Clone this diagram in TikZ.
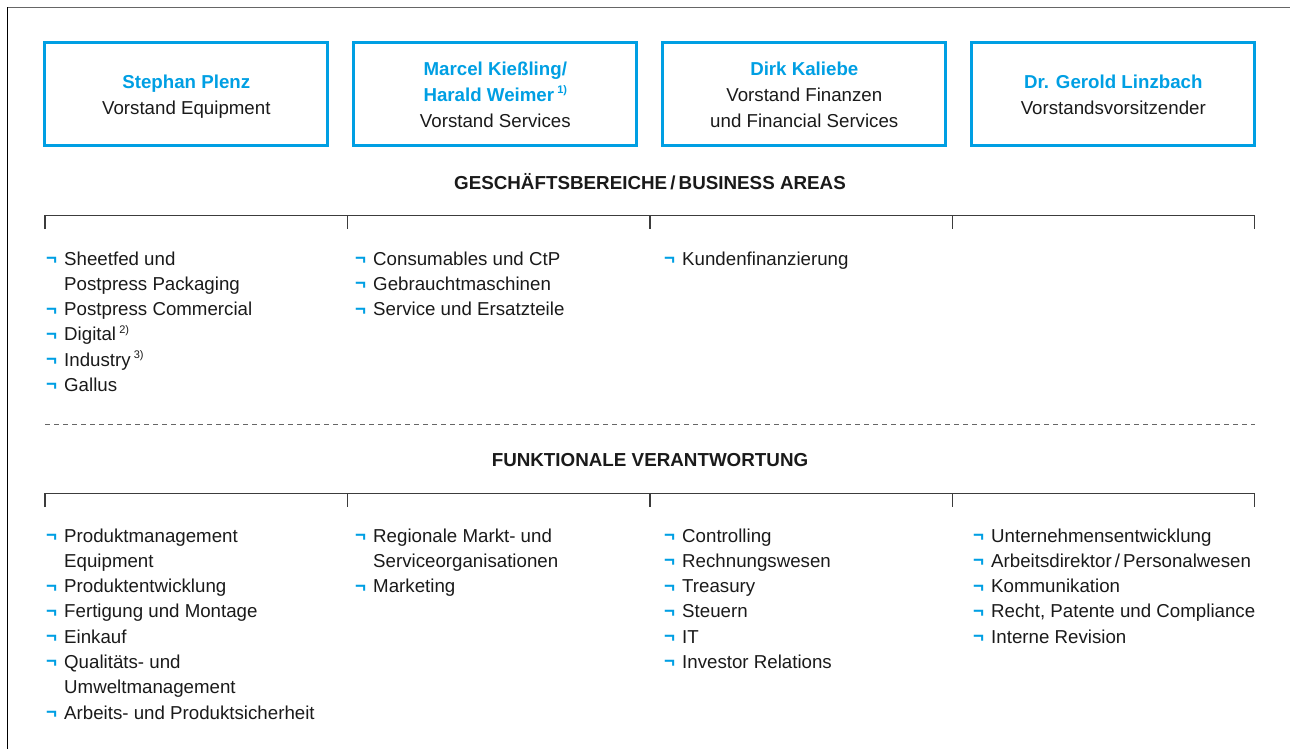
\documentclass[tikz,border=0pt]{standalone}
\usepackage{fontspec}
\setmainfont{Liberation Sans}
\definecolor{hdblue}{HTML}{009FE3}
\definecolor{txt}{HTML}{1A1A1A}
\definecolor{rule}{HTML}{3C3C3C}
\newcommand{\blt}{\makebox[18pt][l]{\bfseries\color{hdblue}\raisebox{0.6pt}{¬}}}
\newcommand{\fnote}[1]{\,\raisebox{0.42em}{\fontsize{11}{11}\selectfont #1}}
\tikzset{
  boxstyle/.style={draw=hdblue, line width=3pt, minimum width=283pt, minimum height=102.4pt, inner sep=0pt},
  boxtext/.style={anchor=base, inner sep=0pt, text=txt, font=\fontsize{18.7}{25.6}\selectfont},
  headtext/.style={anchor=base, inner sep=0pt, text=txt, font=\bfseries\fontsize{18.8}{22}\selectfont},
  listtext/.style={anchor=base west, inner sep=0pt, text=txt, font=\fontsize{18.7}{25.3}\selectfont},
  brk/.style={draw=rule, line width=1.1pt},
  dashline/.style={draw=gray!80!black, line width=1pt, dash pattern=on 5pt off 4pt},
}
\begin{document}
\begin{tikzpicture}[x=1pt,y=-1pt]
\useasboundingbox (0,0) rectangle (1290,749);
% frame lines
\draw[draw=gray!80!black, line width=1.2pt] (7.3,7.3) -- (1290,7.3);
\draw[draw=black, line width=1.1pt] (7.3,7.3) -- (7.3,749);

% boxes
\node[boxstyle] (b1) at (186.3,94) {};
\node[boxstyle] (b2) at (495.3,94) {};
\node[boxstyle] (b3) at (804.3,94) {};
\node[boxstyle] (b4) at (1113.3,94) {};

\node[boxtext] (t1) at (186.3,89) {\begin{tabular}[t]{@{}c@{}}\textcolor{hdblue}{\bfseries Stephan Plenz}\\ Vorstand Equipment\end{tabular}};
\node[boxtext] (t2) at (495.3,76) {\begin{tabular}[t]{@{}c@{}}\textcolor{hdblue}{\bfseries Marcel Kießling/}\\ \textcolor{hdblue}{\bfseries Harald Weimer\fnote{1)}}\\ Vorstand Services\end{tabular}};
\node[boxtext] (t3) at (804.3,76) {\begin{tabular}[t]{@{}c@{}}\textcolor{hdblue}{\bfseries Dirk Kaliebe}\\ Vorstand Finanzen\\ und Financial Services\end{tabular}};
\node[boxtext] (t4) at (1113.3,89) {\begin{tabular}[t]{@{}c@{}}\textcolor{hdblue}{\bfseries Dr. Gerold Linzbach}\\ Vorstandsvorsitzender\end{tabular}};

% headings
\node[headtext] (h1) at (650,189.5) {GESCHÄFTSBEREICHE\,/\,BUSINESS AREAS};
\node[headtext] (h2) at (650,466.5) {FUNKTIONALE VERANTWORTUNG};

% brackets
\draw[brk] (45,229) -- (45,215.5) -- (1254.5,215.5) -- (1254.5,229);
\draw[brk] (347.5,215.5) -- (347.5,229);
\draw[brk] (650,215.5) -- (650,229);
\draw[brk] (952.3,215.5) -- (952.3,229);

\draw[brk] (45,507) -- (45,493.3) -- (1254.5,493.3) -- (1254.5,507);
\draw[brk] (347.5,493.3) -- (347.5,507);
\draw[brk] (650,493.3) -- (650,507);
\draw[brk] (952.3,493.3) -- (952.3,507);

% dashed separator
\draw[dashline] (45,424) -- (1255,424);

% business areas lists
\node[listtext] (ba1) at (46,265) {\begin{tabular}[t]{@{}l@{}l@{}}
\blt & Sheetfed und\\
 & Postpress Packaging\\
\blt & Postpress Commercial\\
\blt & Digital\fnote{2)}\\
\blt & Industry\fnote{3)}\\
\blt & Gallus
\end{tabular}};
\node[listtext] (ba2) at (355,265) {\begin{tabular}[t]{@{}l@{}l@{}}
\blt & Consumables und CtP\\
\blt & Gebrauchtmaschinen\\
\blt & Service und Ersatzteile
\end{tabular}};
\node[listtext] (ba3) at (664,265) {\begin{tabular}[t]{@{}l@{}l@{}}
\blt & Kundenfinanzierung
\end{tabular}};

% functional lists
\node[listtext] (fv1) at (46,542) {\begin{tabular}[t]{@{}l@{}l@{}}
\blt & Produktmanagement\\
 & Equipment\\
\blt & Produktentwicklung\\
\blt & Fertigung und Montage\\
\blt & Einkauf\\
\blt & Qualitäts- und\\
 & Umweltmanagement\\
\blt & Arbeits- und Produktsicherheit
\end{tabular}};
\node[listtext] (fv2) at (355,542) {\begin{tabular}[t]{@{}l@{}l@{}}
\blt & Regionale Markt- und\\
 & Serviceorganisationen\\
\blt & Marketing
\end{tabular}};
\node[listtext] (fv3) at (664,542) {\begin{tabular}[t]{@{}l@{}l@{}}
\blt & Controlling\\
\blt & Rechnungswesen\\
\blt & Treasury\\
\blt & Steuern\\
\blt & IT\\
\blt & Investor Relations
\end{tabular}};
\node[listtext] (fv4) at (973,542) {\begin{tabular}[t]{@{}l@{}l@{}}
\blt & Unternehmensentwicklung\\
\blt & Arbeitsdirektor\,/\,Personalwesen\\
\blt & Kommunikation\\
\blt & Recht, Patente und Compliance\\
\blt & Interne Revision
\end{tabular}};
\end{tikzpicture}
\end{document}
